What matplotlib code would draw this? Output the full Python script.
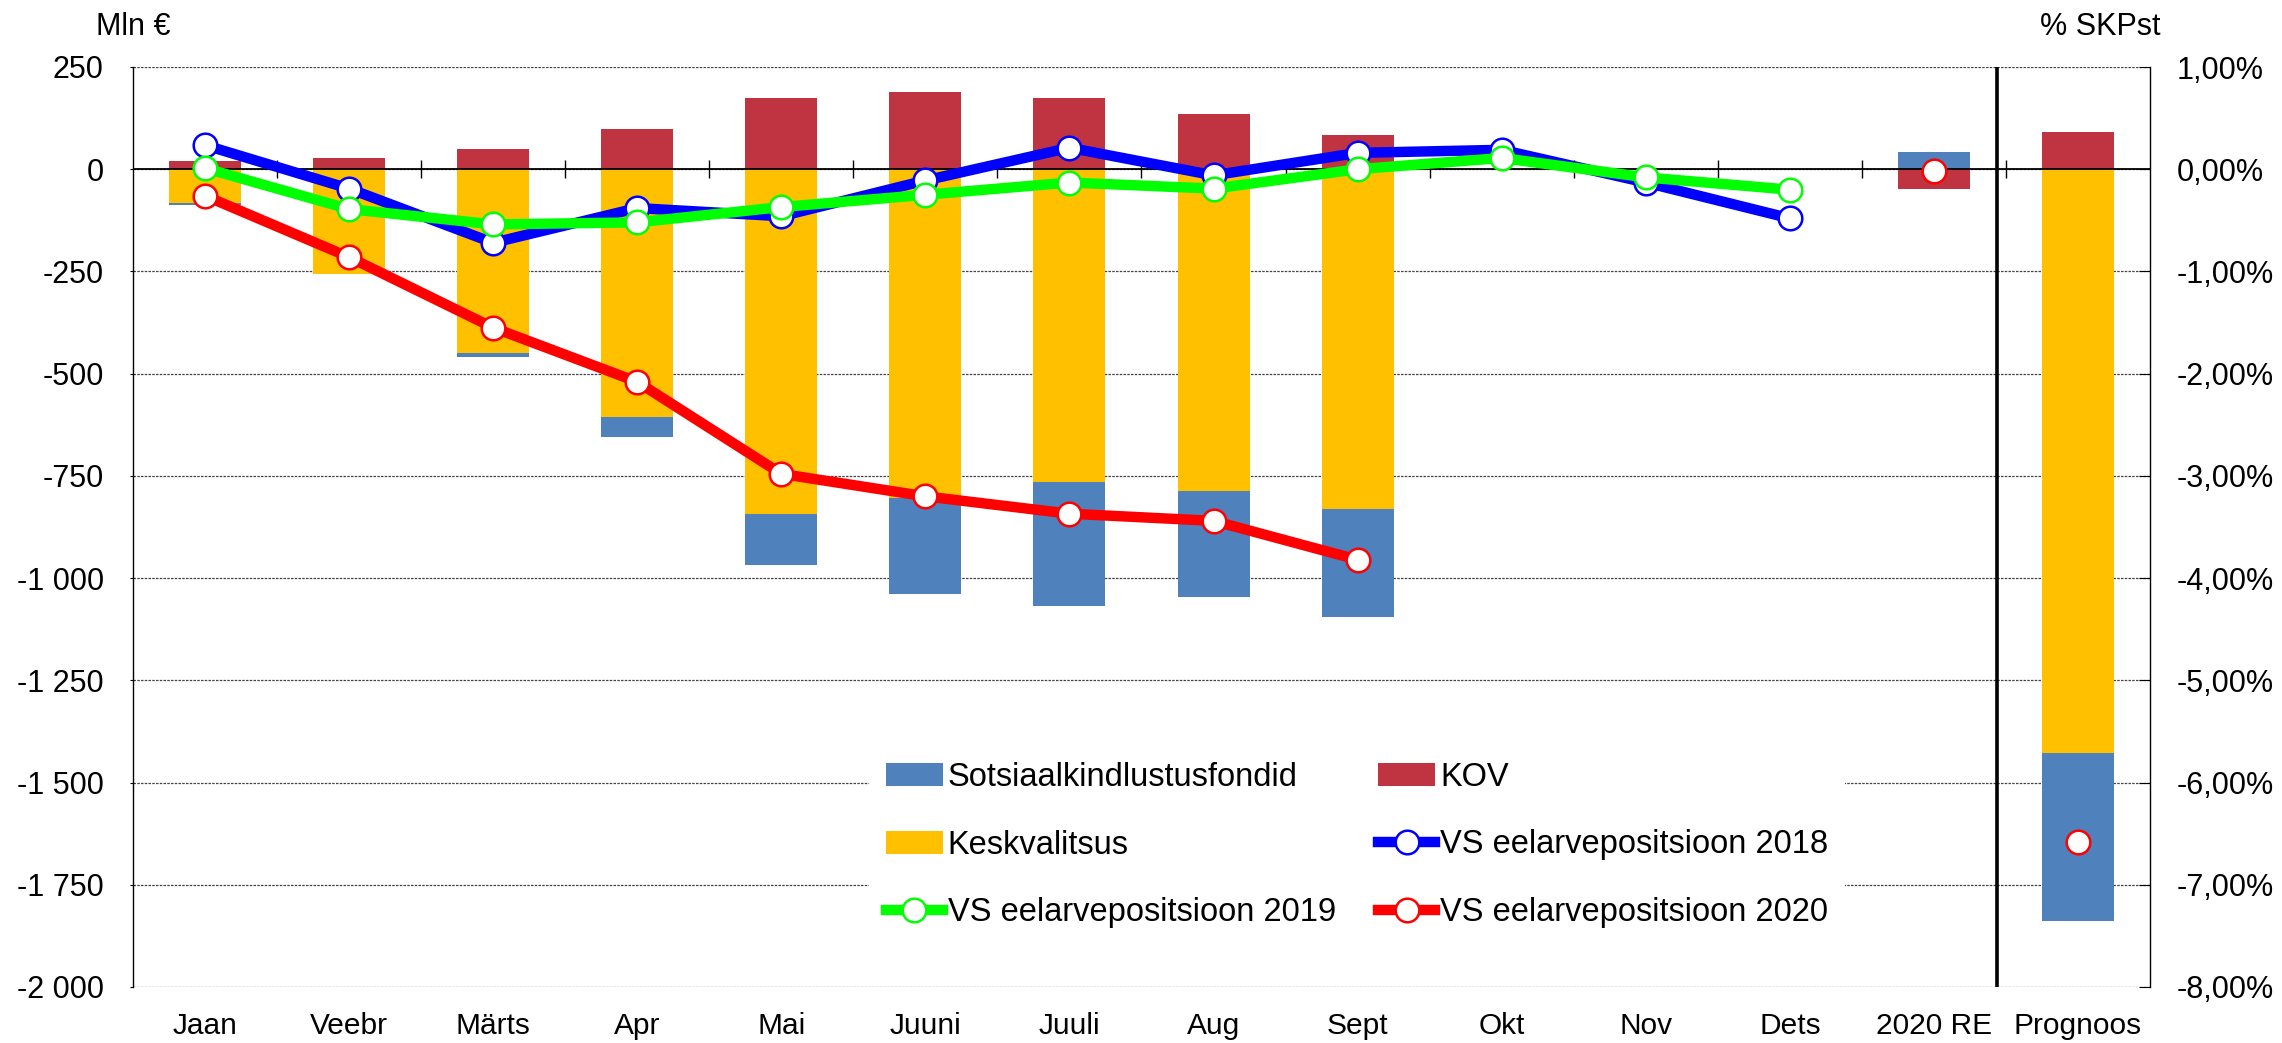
import numpy as np
import matplotlib
matplotlib.use("Agg")
import matplotlib.pyplot as plt
from matplotlib.ticker import FuncFormatter, MultipleLocator

plt.rcParams['font.family'] = ['Liberation Sans', 'DejaVu Sans']

# categories (months + annual estimate + forecast)
categories = ['Jaan', 'Veebr', 'Märts', 'Apr', 'Mai', 'Juuni', 'Juuli', 'Aug',
              'Sept', 'Okt', 'Nov', 'Dets', '2020 RE', 'Prognoos']

nan = np.nan
# bar components, Mln €
keskvalitsus = [-83, -256, -449, -606, -844, -805, -764, -786, -832, nan, nan, nan, 0, -1427]
sotsiaal = [-5, 0, -11, -48, -123, -233, -305, -260, -264, nan, nan, nan, 42, -411]
kov = [20, 28, 49, 99, 175, 189, 175, 134, 83, nan, nan, nan, -48, 91]

# budget position lines, % of GDP
vs_2018 = [0.235, -0.19, -0.72, -0.38, -0.46, -0.11, 0.21, -0.06, 0.16, 0.19, -0.13, -0.48, nan, nan]
vs_2019 = [0.01, -0.39, -0.54, -0.52, -0.37, -0.25, -0.13, -0.19, 0.0, 0.11, -0.08, -0.20, nan, nan]
vs_2020 = [-0.26, -0.86, -1.55, -2.08, -2.98, -3.20, -3.37, -3.44, -3.82, nan, nan, nan, -0.02, -6.58]

W, H = 2282, 1043
fig = plt.figure(figsize=(W / 100, H / 100), dpi=100)
ax = fig.add_axes([133 / W, 56 / H, (2150 - 133) / W, (987 - 67) / H])
ax2 = ax.twinx()

x = np.arange(len(categories))

# stacked bars, positives and negatives stacked separately
pos_base = np.zeros(len(x))
neg_base = np.zeros(len(x))
bar_handles = {}
for name, vals, col in [('Keskvalitsus', keskvalitsus, '#FFC000'),
                        ('Sotsiaalkindlustusfondid', sotsiaal, '#4F81BD'),
                        ('KOV', kov, '#C03442')]:
    v = np.nan_to_num(np.array(vals, dtype=float))
    bottom = np.where(v >= 0, pos_base, neg_base)
    bar_handles[name] = ax.bar(x, v, width=0.5, bottom=bottom, color=col,
                               label=name, zorder=2)
    pos_base = pos_base + np.where(v > 0, v, 0)
    neg_base = neg_base + np.where(v < 0, v, 0)

# left axis
ax.set_xlim(-0.5, len(categories) - 0.5)
ax.set_ylim(-2000, 250)
ax.yaxis.set_major_locator(MultipleLocator(250))
ax.yaxis.set_major_formatter(FuncFormatter(lambda v, p: f"{v:,.0f}".replace(",", " ")))
ax.yaxis.grid(True, color='#444444', linestyle=(0, (2, 1)), linewidth=0.9)
ax.set_axisbelow(True)
ax.set_xticks(x)
ax.set_xticklabels(categories, fontsize=21.5)
ax.tick_params(axis='x', length=0, pad=18)
ax.tick_params(axis='y', length=2, pad=19, labelsize=22)
for s in ['top', 'bottom', 'right']:
    ax.spines[s].set_visible(False)
ax.spines['left'].set_linewidth(1.0)

# zero line with category separators
ax.axhline(0, color='black', linewidth=1.3, zorder=3)
ax.plot(x[:-1] + 0.5, np.zeros(len(x) - 1), linestyle='none', marker='|',
        markersize=13, markeredgewidth=1.0, color='black', zorder=3)
# separator before the forecast bar
ax.axvline(12.44, color='black', linewidth=2.6, zorder=3)

# right axis lines
ax2.set_ylim(-8, 1)
ax2.yaxis.set_major_locator(MultipleLocator(1))
ax2.yaxis.set_major_formatter(FuncFormatter(lambda v, p: f"{v:.2f}%".replace(".", ",")))
ax2.tick_params(axis='y', direction='in', length=8, pad=19, labelsize=22)
for s in ['top', 'bottom', 'left']:
    ax2.spines[s].set_visible(False)
ax2.spines['right'].set_linewidth(1.0)

style = dict(linewidth=7.5, marker='o', markersize=17, markerfacecolor='white',
             markeredgewidth=1.8, solid_joinstyle='round', zorder=4)
l18, = ax2.plot(x, vs_2018, color='#0000FF', markeredgecolor='#0000FF',
                label='VS eelarvepositsioon 2018', **style)
l19, = ax2.plot(x, vs_2019, color='#00FF00', markeredgecolor='#00FF00',
                label='VS eelarvepositsioon 2019', **style)
l20, = ax2.plot(x[:12], vs_2020[:12], color='#FF0000', markeredgecolor='#FF0000',
                label='VS eelarvepositsioon 2020', **style)
ax2.plot(x[12:], vs_2020[12:], color='#FF0000', markeredgecolor='#FF0000',
         linestyle='none', **{k: v for k, v in style.items() if k != 'linewidth'})

handles = [bar_handles['Sotsiaalkindlustusfondid'], bar_handles['Keskvalitsus'], l19,
           bar_handles['KOV'], l18, l20]
labels = [h.get_label() for h in handles]
leg = ax2.legend(handles, labels, ncol=2, loc='center',
                 bbox_to_anchor=(1357 / W, 1 - 845 / H), bbox_transform=fig.transFigure,
                 fontsize=23.5, frameon=True, fancybox=False, edgecolor='none',
                 facecolor='white', framealpha=1, handlelength=1.75,
                 handletextpad=0.15, labelspacing=1.12, columnspacing=1.3,
                 borderpad=0.5)
leg.set_zorder(10)

fig.text(96 / W, 1 - 27 / H, 'Mln €', fontsize=22, ha='left', va='center')
fig.text(2160 / W, 1 - 27 / H, '% SKPst', fontsize=22, ha='right', va='center')

fig.savefig('out.png', dpi=100)
